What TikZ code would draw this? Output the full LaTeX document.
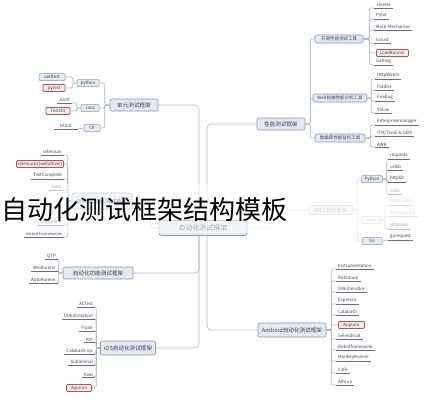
\documentclass[tikz,border=0pt]{standalone}
\usepackage{fontspec}
\setmainfont{Noto Sans CJK SC}
\definecolor{bfill}{HTML}{E4EAF4}
\definecolor{bdr}{HTML}{8797B2}
\definecolor{lcol}{HTML}{AEB7C4}
\definecolor{txt}{HTML}{3A4250}
\definecolor{ucol}{HTML}{5F7090}
\definecolor{redc}{HTML}{C0504D}
\definecolor{redf}{HTML}{FBECEC}
\begin{document}
\begin{tikzpicture}[x=1pt,y=-1pt,
  conn/.style={draw=lcol, line width=0.6pt, rounded corners=2pt},
  ul/.style={draw=ucol, line width=0.8pt},
  rootbox/.style={draw=bdr, fill=bfill, rounded corners=2.5pt, line width=0.8pt, text=txt,
    font=\fontsize{7}{8}\selectfont, minimum width=88pt, minimum height=15pt, inner sep=1pt},
  br/.style={draw=bdr, fill=bfill, rounded corners=2pt, line width=0.6pt, text=txt,
    font=\fontsize{5.6}{6.5}\selectfont, minimum height=12pt, inner sep=1.5pt},
  sb/.style={draw=bdr, fill=bfill, rounded corners=1.5pt, line width=0.6pt, text=txt,
    font=\fontsize{4.5}{5}\selectfont, minimum height=8pt, inner sep=1.2pt},
  lb/.style={draw=bdr, fill=bfill, rounded corners=1pt, line width=0.5pt, text=txt,
    font=\fontsize{4.4}{5}\selectfont, minimum height=7pt, inner sep=1pt},
  rb/.style={lb, draw=redc, fill=redf, line width=0.8pt},
  lf/.style={font=\fontsize{4.4}{5}\selectfont, inner xsep=2pt, inner ysep=0.8pt, text=txt},
  lfl/.style={lf, anchor=south east},
  lfr/.style={lf, anchor=south west},
  fade/.style={opacity=0.45}]
\useasboundingbox (0,0) rectangle (432,400);
\fill[white] (0,0) rectangle (432,400);

% ---------- root ----------
\node[rootbox] (R) at (203,228) {自动化测试框架};

% ---------- left branches ----------
\node[br, minimum width=48pt] (U) at (134,105) {单元测试框架};
\node[br, minimum width=60pt, minimum height=16pt] (W) at (102,201) {Web自动化测试框架};
\node[br, minimum width=70pt] (F) at (98,273) {自动化功能测试框架};
\node[br, minimum width=55pt, minimum height=14pt] (I) at (128,348) {iOS自动化测试框架};

% ---------- right branches ----------
\node[br, minimum width=48pt] (P) at (281,124) {性能测试框架};
\node[br, minimum width=44pt, minimum height=9pt, fade] (J) at (331,210) {接口测试框架};
\node[br, minimum width=68pt, minimum height=14pt] (A) at (292,330) {Android自动化测试框架};

% root connectors
\coordinate (RLn) at ([xshift=-4pt]R.north);
\coordinate (RLs) at ([xshift=-4pt]R.south);
\coordinate (RRn) at ([xshift=4pt]R.north);
\coordinate (RRs) at ([xshift=4pt]R.south);
\draw[conn, rounded corners=4pt] (RLn) |- (U.east);
\draw[conn, rounded corners=4pt] (RLs) |- (F.east);
\draw[conn, rounded corners=4pt] (RLs) |- (I.east);
\draw[conn, rounded corners=4pt] (R.west) -- ++(-8,0) |- (W.east);
\draw[conn, rounded corners=4pt] (RRn) |- (P.west);
\draw[conn, rounded corners=4pt] (RRs) |- (A.west);
\draw[conn, rounded corners=4pt, fade] (R.east) -- ++(30,0) |- (J.west);

% ---------- unit test subtree ----------
\node[lb, minimum width=22pt] (Upy) at (88,83) {python};
\node[lb, minimum width=18pt] (Ujava) at (90,108) {Java};
\node[lb, minimum width=16pt] (Ucs) at (92,128) {C\#};
\foreach \n in {Upy,Ujava,Ucs} \draw[conn] (U.west) -- ++(-5,0) |- (\n.east);
\node[lb, minimum width=26pt] (Ut1) at (52,77) {unittest};
\node[rb, minimum width=22pt] (Ut2) at (54,88) {pytest};
\foreach \n in {Ut1,Ut2} \draw[conn] (Upy.west) -- ++(-4,0) |- (\n.east);
\node[lfl] (Uj1) at (72,103) {JUnit};
\node[rb, minimum width=24pt] (Uj2) at (58,111) {TestNG};
\draw[conn] (Ujava.west) -- ++(-4,0) |- (Uj1.south east);
\draw[conn] (Ujava.west) -- ++(-4,0) |- (Uj2.east);
\node[lfl, inner xsep=6pt] (Uc1) at (78,129) {NUnit};
\draw[conn] (Ucs.west) -- (Uc1.south east);
\foreach \n in {Uj1,Uc1} \draw[ul] (\n.south east) -- (\n.south west);

% ---------- web subtree ----------
\node[lfl] (W1) at (64,155) {selenium};
\node[rb, anchor=east] (W2) at (64,164) {selenium2(webdriver)};
\node[lfl] (W3) at (64,179) {TestComplete};
\node[lfl] (W4) at (64,190) {Watir};
\node[lfl] (W7) at (64,225) {Cucumber};
\node[lfl] (W8) at (64,237) {RobotFramework};
\foreach \n in {W1,W3,W4,W7,W8} {
  \draw[conn] (W.west) -- ++(-4,0) |- (\n.south east);
  \draw[ul] (\n.south east) -- (\n.south west);
}
\draw[conn] (W.west) -- ++(-4,0) |- (W2.east);

% ---------- functional subtree ----------
\node[lfl] (F1) at (58,259) {QTP};
\node[lfl] (F2) at (58,271) {WinRunner};
\node[lfl] (F3) at (58,283) {AutoRunner};
\foreach \n in {F1,F2,F3} {
  \draw[conn] (F.west) -- ++(-4,0) |- (\n.south east);
  \draw[ul] (\n.south east) -- (\n.south west);
}

% ---------- iOS subtree ----------
\node[lfl] (I1) at (95,307) {XCTest};
\node[lfl] (I2) at (95,319) {UIAutomation};
\node[lfl] (I3) at (95,331) {Frank};
\node[lfl] (I4) at (95,342) {KIF};
\node[lfl] (I5) at (95,354) {Calabash-ios};
\node[lfl] (I6) at (95,365) {Subliminal};
\node[lfl] (I7) at (95,377) {Kiwi};
\node[rb, anchor=east, minimum width=25pt] (I8) at (92,388) {Appium};
\foreach \n in {I1,I2,I3,I4,I5,I6,I7} {
  \draw[conn] (I.west) -- ++(-4,0) |- (\n.south east);
  \draw[ul] (\n.south east) -- (\n.south west);
}
\draw[conn] (I.west) -- ++(-4,0) |- (I8.east);

% ---------- performance subtree ----------
\node[sb, minimum width=48pt] (S1) at (339,39) {开源性能测试工具};
\node[sb, minimum width=54pt] (S2) at (340,98) {Web前端性能分析工具};
\node[sb, minimum width=50pt] (S3) at (340,138) {数据库性能监控工具};
\foreach \n in {S1,S2,S3} \draw[conn] (P.east) -- ++(5,0) |- (\n.west);

\node[lfr] (P1) at (374,8) {Jmeter};
\node[lfr] (P2) at (374,19) {Pylot};
\node[lfr] (P3) at (374,30) {Multi-Mechanize};
\node[lfr] (P4) at (374,43) {locust};
\node[rb, anchor=west, minimum width=32pt] (P5) at (376,53) {LoadRunner};
\node[lfr] (P6) at (374,65) {Gatling};
\foreach \n in {P1,P2,P3,P4,P6} {
  \draw[conn] (S1.east) -- ++(6,0) |- (\n.south west);
  \draw[ul] (\n.south west) -- (\n.south east);
}
\draw[conn] (S1.east) -- ++(6,0) |- (P5.west);

\node[lfr] (Q1) at (375,79) {HttpWatch};
\node[lfr] (Q2) at (375,90) {Fiddler};
\node[lfr] (Q3) at (375,101) {Firebug};
\node[lfr] (Q4) at (375,113) {YSlow};
\foreach \n in {Q1,Q2,Q3,Q4} {
  \draw[conn] (S2.east) -- ++(4,0) |- (\n.south west);
  \draw[ul] (\n.south west) -- (\n.south east);
}
\node[lfr] (D1) at (375,125) {Enterprisemanager};
\node[lfr] (D2) at (375,136) {ITM/Tivoli \& OEM};
\node[lfr] (D3) at (375,147) {AWR};
\foreach \n in {D1,D2,D3} {
  \draw[conn] (S3.east) -- ++(5,0) |- (\n.south west);
  \draw[ul] (\n.south west) -- (\n.south east);
}

% ---------- interface subtree ----------
\node[lb, minimum width=21pt] (GA) at (372,179) {Python};
\node[lb, minimum width=19pt, fade] (GB) at (371,220) {Java};
\node[lb, minimum width=20pt] (GC) at (372,241) {Go};
\draw[conn, fade] (J.east) -- ++(4,0) |- (GA.west);
\draw[conn, fade] (J.east) -- ++(4,0) |- (GB.west);
\draw[conn, fade] (J.east) -- ++(4,0) |- (GC.west);
\node[lfr] (H1) at (388,159) {requests};
\node[lfr] (H2) at (388,170) {urllib};
\node[lfr] (H3) at (388,182) {httplib};
\node[lfr] (H4) at (388,194) {suds};
\foreach \n in {H1,H2,H3,H4} {
  \draw[conn] (GA.east) -- ++(4,0) |- (\n.south west);
  \draw[ul] (\n.south west) -- (\n.south east);
}
\node[lfr, fade] (K1) at (388,205) {HttpClient};
\node[lfr, fade] (K2) at (388,216) {RestAssured};
\node[lfr] (K3) at (388,229) {HttpUnit};
\foreach \n in {K1,K2} {
  \draw[conn, fade] (GB.east) -- ++(4,0) |- (\n.south west);
  \draw[ul, fade] (\n.south west) -- (\n.south east);
}
\draw[conn] (GB.east) -- ++(4,0) |- (K3.south west);
\draw[ul] (K3.south west) -- (K3.south east);
\node[lfr] (L1) at (388,240) {gorequest};
\draw[conn] (GC.east) -- (L1.south west);
\draw[ul] (L1.south west) -- (L1.south east);

% ---------- Android subtree ----------
\node[lfr] (A1) at (336,269) {Instrumentation};
\node[lfr] (A2) at (336,281) {Robotium};
\node[lfr] (A3) at (336,292) {UIAutomator};
\node[lfr] (A4) at (336,304) {Espresso};
\node[lfr] (A5) at (336,315) {Calabash};
\node[rb, anchor=west, minimum width=26pt] (A6) at (338,325) {Appium};
\node[lfr] (A7) at (336,339) {Selendroid};
\node[lfr] (A8) at (336,350) {Robotframework};
\node[lfr] (A9) at (336,361) {MonkeyRunner};
\node[lfr] (A10) at (336,373) {Cafe};
\node[lfr] (A11) at (336,385) {Athrun};
\foreach \n in {A1,A2,A3,A4,A5,A7,A8,A9,A10,A11} {
  \draw[conn] (A.east) -- ++(5,0) |- (\n.south west);
  \draw[ul] (\n.south west) -- (\n.south east);
}
\draw[conn] (A.east) -- ++(5,0) |- (A6.west);

% ---------- veil and title ----------
\fill[white, opacity=0.55] (0,184) rectangle (432,233);
\node[anchor=west, inner sep=0pt, text=black, font=\fontsize{26}{28}\selectfont] (T) at (1,210) {自动化测试框架结构模板};
\end{tikzpicture}
\end{document}
